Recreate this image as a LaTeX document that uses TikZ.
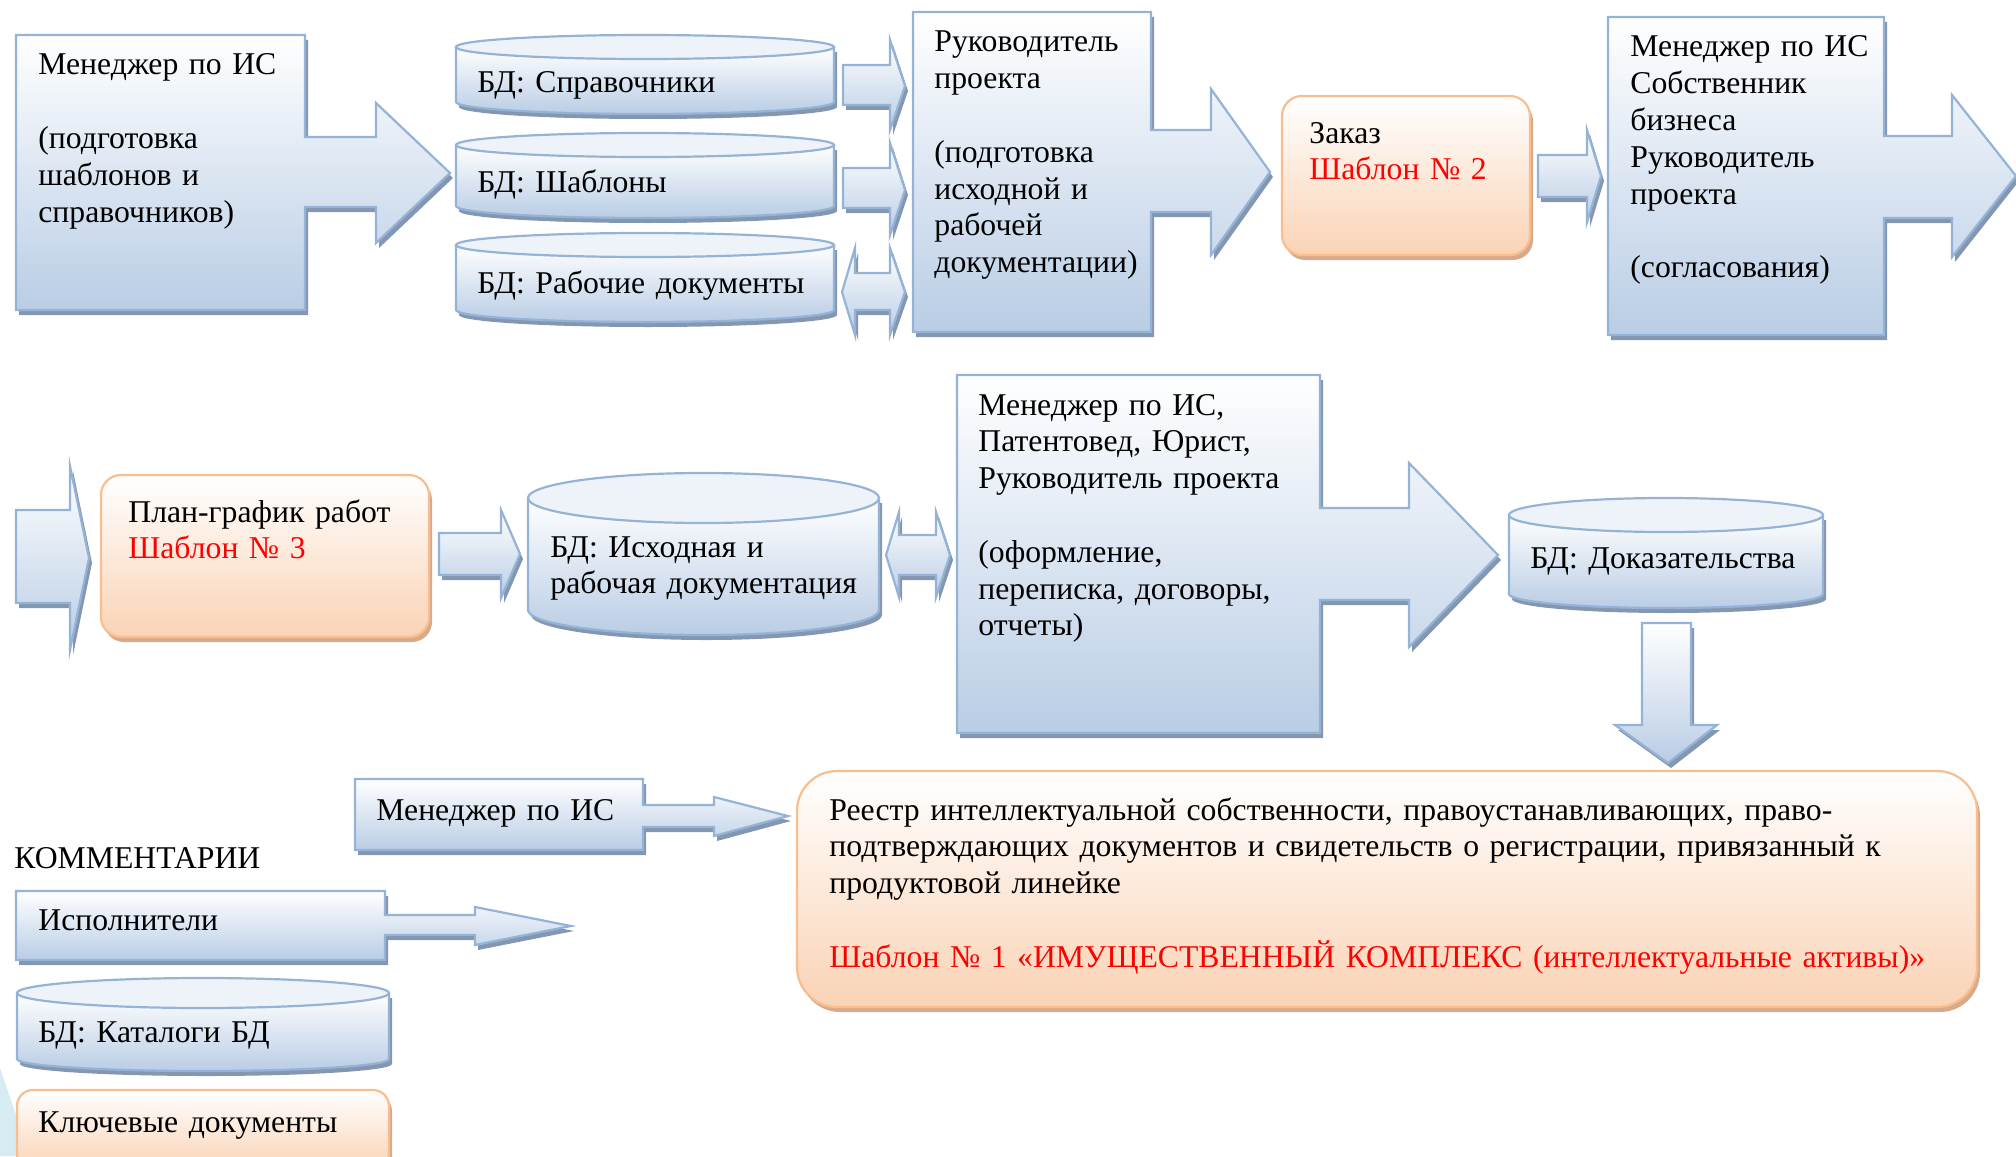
\documentclass[tikz,border=0pt]{standalone}
\usepackage{fontspec}
\setmainfont{Liberation Serif}
\usepackage{tikz}
\usetikzlibrary{shadows}

\definecolor{fillblue}{HTML}{B9CDE5}
\definecolor{lineblue}{HTML}{95B3D7}
\definecolor{shadeblue}{HTML}{8497B0}
\definecolor{topblue}{HTML}{EEF3FA}
\definecolor{fillorange}{HTML}{FAD3B5}
\definecolor{lineorange}{HTML}{F9BE8F}
\definecolor{shadeorange}{HTML}{D8AA8C}
\definecolor{cornercyan}{HTML}{D6ECF2}

\begin{document}
\begin{tikzpicture}[x=0.5pt,y=-0.5pt,
	bluebox/.style={draw=lineblue,line width=1.1pt,top color=white,bottom color=fillblue,
		drop shadow={shadow xshift=1.5pt,shadow yshift=-2.5pt,fill=shadeblue,opacity=1}},
	orangebox/.style={draw=lineorange,line width=1.1pt,top color=white,bottom color=fillorange,
		drop shadow={shadow xshift=1.5pt,shadow yshift=-2.5pt,fill=shadeorange,opacity=1}},
	cantop/.style={draw=lineblue,line width=1.1pt,fill=topblue},
	txt/.style={anchor=base west,inner sep=0pt,text width=700pt,align=left,
		font=\fontsize{15.85}{18.4}\selectfont}]
				\useasboundingbox (0,0) rectangle (2016,1156);
				\fill[cornercyan] (0,1068) -- (30,1156) -- (0,1156) -- cycle;
				% first row
				\draw[bluebox] (16,35) -- (305,35) -- (305,137) -- (376,137) -- (376,103) -- (450,173) -- (376,243) -- (376,207) -- (305,207) -- (305,310) -- (16,310) -- cycle;
				\draw[bluebox] (456,47) -- (456,102) arc[start angle=180,end angle=0,x radius=189,y radius=12] -- (834,47) -- cycle;
				\draw[cantop] (645,47) ellipse [x radius=189,y radius=12];
				\draw[bluebox] (456,145) -- (456,206) arc[start angle=180,end angle=0,x radius=189,y radius=12] -- (834,145) -- cycle;
				\draw[cantop] (645,145) ellipse [x radius=189,y radius=12];
				\draw[bluebox] (456,245) -- (456,310) arc[start angle=180,end angle=0,x radius=189,y radius=12] -- (834,245) -- cycle;
				\draw[cantop] (645,245) ellipse [x radius=189,y radius=12];
				\draw[bluebox] (843,65) -- (890,65) -- (890,40) -- (905,86) -- (890,130) -- (890,105) -- (843,105) -- cycle;
				\draw[bluebox] (843,168) -- (890,168) -- (890,143) -- (905,190) -- (890,235) -- (890,208) -- (843,208) -- cycle;
				\draw[bluebox] (842,292) -- (855,248) -- (855,273) -- (890,273) -- (890,248) -- (905,292) -- (890,335) -- (890,310) -- (855,310) -- (855,335) -- cycle;
				\draw[bluebox] (913,12) -- (1151,12) -- (1151,130) -- (1211,130) -- (1211,89) -- (1270,172) -- (1211,255) -- (1211,212) -- (1151,212) -- (1151,332) -- (913,332) -- cycle;
				\draw[orangebox,rounded corners=10pt] (1282,96) rectangle (1530,255);
				\draw[bluebox] (1538,155) -- (1587,155) -- (1587,130) -- (1601,176) -- (1587,222) -- (1587,197) -- (1538,197) -- cycle;
				\draw[bluebox] (1608,17) -- (1884,17) -- (1884,136) -- (1952,136) -- (1952,95) -- (2016,176) -- (1952,257) -- (1952,218) -- (1884,218) -- (1884,335) -- (1608,335) -- cycle;
				% second row
				\draw[bluebox] (16,510) -- (70,510) -- (70,466) -- (89,558) -- (70,650) -- (70,603) -- (16,603) -- cycle;
				\draw[orangebox,rounded corners=10pt] (101,475) rectangle (429,637);
				\draw[bluebox] (439,533) -- (501,533) -- (501,510) -- (520,554) -- (501,598) -- (501,575) -- (439,575) -- cycle;
				\draw[bluebox] (528,498) -- (528,610) arc[start angle=180,end angle=0,x radius=175.5,y radius=25] -- (879,498) -- cycle;
				\draw[cantop] (703.5,498) ellipse [x radius=175.5,y radius=25];
				\draw[bluebox] (886,555) -- (899,512) -- (899,535) -- (936,535) -- (936,512) -- (950,555) -- (936,597) -- (936,575) -- (899,575) -- (899,597) -- cycle;
				\draw[bluebox] (957,375) -- (1320,375) -- (1320,508) -- (1409,508) -- (1409,463) -- (1498,555) -- (1409,647) -- (1409,600) -- (1320,600) -- (1320,733) -- (957,733) -- cycle;
				\draw[bluebox] (1509,515) -- (1509,594) arc[start angle=180,end angle=0,x radius=157,y radius=14] -- (1823,515) -- cycle;
				\draw[cantop] (1666,515) ellipse [x radius=157,y radius=17];
				\draw[bluebox] (1642,623) -- (1691,623) -- (1691,725) -- (1717,725) -- (1668,763) -- (1615,725) -- (1642,725) -- cycle;
				% third row and comments
				\draw[bluebox] (355,779) -- (643,779) -- (643,805) -- (714,805) -- (714,797) -- (788,816) -- (714,836) -- (714,827) -- (643,827) -- (643,850) -- (355,850) -- cycle;
				\draw[orangebox,rounded corners=20pt] (797,771) rectangle (1977,1007);
				\draw[bluebox] (16,891) -- (385,891) -- (385,915) -- (475,915) -- (475,907) -- (571,926) -- (475,945) -- (475,935) -- (385,935) -- (385,960) -- (16,960) -- cycle;
				\draw[bluebox] (17,993) -- (17,1059) arc[start angle=180,end angle=0,x radius=186,y radius=12] -- (389,993) -- cycle;
				\draw[cantop] (203,993) ellipse [x radius=186,y radius=15];
				\draw[orangebox,rounded corners=8pt] (17,1090) rectangle (389,1170);
				% texts
				\node[txt] (mgr) at (38,75) {Менеджер по ИС\\\mbox{}\\(подготовка\\шаблонов и\\справочников)};
				\node[txt] (dbref) at (477,92) {БД: Справочники};
				\node[txt] (dbtpl) at (477,192) {БД: Шаблоны};
				\node[txt] (dbwork) at (477,293) {БД: Рабочие документы};
				\node[txt] (head) at (934,52) {Руководитель\\проекта\\\mbox{}\\(подготовка\\исходной и\\рабочей\\документации)};
				\node[txt] (order) at (1309,143) {Заказ\\\textcolor{red}{Шаблон № 2}};
				\node[txt] (agree) at (1630,57) {Менеджер по ИС\\Собственник\\бизнеса\\Руководитель\\проекта\\\mbox{}\\(согласования)};
				\node[txt] (plan) at (128,522) {План-график работ\\\textcolor{red}{Шаблон № 3}};
				\node[txt] (dbsrc) at (550,557) {БД: Исходная и\\рабочая документация};
				\node[txt] (team) at (978,415) {Менеджер по ИС,\\Патентовед, Юрист,\\Руководитель проекта\\\mbox{}\\(оформление,\\переписка, договоры,\\отчеты)};
				\node[txt] (dbproof) at (1530,568) {БД: Доказательства};
				\node[txt] (mgr2) at (376,820) {Менеджер по ИС};
				\node[txt] (notes) at (14,868) {КОММЕНТАРИИ};
				\node[txt] (actors) at (38,930) {Исполнители};
				\node[txt] (dbcat) at (38,1042) {БД: Каталоги БД};
				\node[txt] (keydocs) at (38,1132) {Ключевые документы};
				\node[txt] (registry) at (829,820) {Реестр интеллектуальной собственности, правоустанавливающих, право-\\подтверждающих документов и свидетельств о регистрации, привязанный к\\продуктовой линейке\\\mbox{}\\\textcolor{red}{Шаблон № 1 «ИМУЩЕСТВЕННЫЙ КОМПЛЕКС (интеллектуальные активы)»}};
			\end{tikzpicture}
\end{document}
